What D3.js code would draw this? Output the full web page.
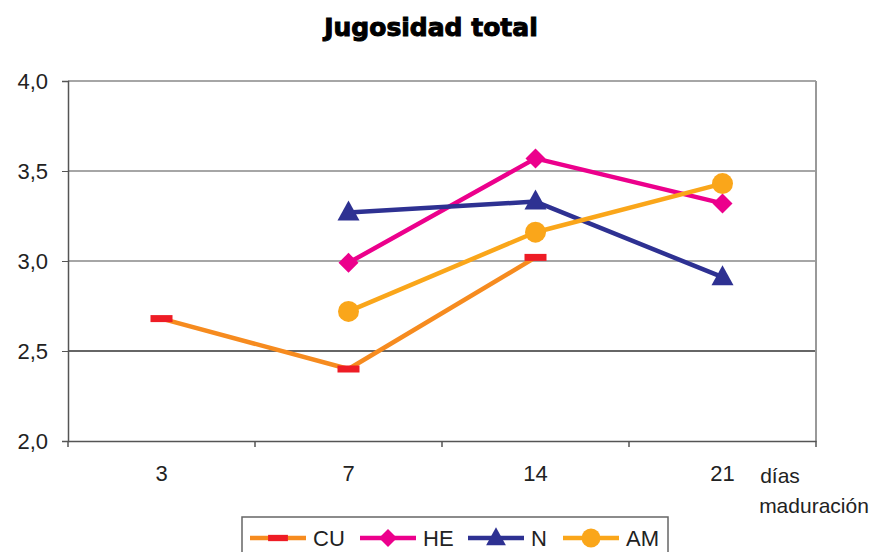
<!DOCTYPE html>
<html>
<head>
<meta charset="utf-8">
<script src="https://cdn.jsdelivr.net/npm/d3@7"></script>
<style>
  body { margin: 0; background: #fff; }
  text { font-family: "Liberation Sans", Arial, sans-serif; }
</style>
</head>
<body>
<div id="chart"></div>
<script>
// data
var categories = ["3", "7", "14", "21"];
var yTicks = [2.0, 2.5, 3.0, 3.5, 4.0];
var cuValues = [2.68, 2.40, 3.02, null];
var heValues = [null, 2.99, 3.57, 3.32];
var nValues = [null, 3.27, 3.33, 2.91];
var amValues = [null, 2.72, 3.16, 3.43];

var seriesNames = ["CU", "HE", "N", "AM"];
var seriesData = [cuValues, heValues, nValues, amValues];
var lineColors = ["#f68b1f", "#ec008c", "#2e3192", "#faa61a"];
var markerColors = ["#ee1c25", "#ec008c", "#2e3192", "#faa61a"];
var markerShapes = ["dash", "diamond", "triangle", "circle"];

var svgWidth = 873, svgHeight = 552;
var margin = { top: 81, right: 57, bottom: 111, left: 68 };
var width = svgWidth - margin.left - margin.right;
var height = svgHeight - margin.top - margin.bottom;

var svg = d3.select("#chart").append("svg")
  .attr("width", svgWidth)
  .attr("height", svgHeight);

svg.append("text")
  .attr("x", 431).attr("y", 36)
  .attr("text-anchor", "middle")
  .style("font-family", "'DejaVu Sans', Verdana, sans-serif")
  .style("font-weight", "900")
  .style("font-size", "25px")
  .style("stroke", "#000").style("stroke-width", "1px")
  .text("Jugosidad total");

var g = svg.append("g").attr("transform", `translate(${margin.left},${margin.top})`);

var x = d3.scaleBand().domain(categories).range([0, width]);
var y = d3.scaleLinear().domain([2, 4]).range([height, 0]);

// gridlines
g.selectAll(".grid").data(yTicks.filter(d => d > 2)).enter().append("line")
  .attr("x1", 0).attr("x2", width)
  .attr("y1", d => y(d)).attr("y2", d => y(d))
  .attr("stroke", d => d === 2.5 ? "#333" : "#888")
  .attr("stroke-width", 1.5);

// right border
g.append("line").attr("x1", width).attr("x2", width).attr("y1", 0).attr("y2", height)
  .attr("stroke", "#999").attr("stroke-width", 2);

// y axis
var yAxis = g.append("g")
  .call(d3.axisLeft(y).tickValues(yTicks).tickSize(6).tickPadding(14)
    .tickFormat(d => d3.format(".1f")(d).replace(".", ",")));
yAxis.select(".domain").attr("stroke", "#555").attr("stroke-width", 1.5);
yAxis.selectAll(".tick line").attr("stroke", "#555");
yAxis.selectAll(".tick text").style("font-size", "22px").attr("fill", "#222")
  .style("font-family", "'Liberation Sans', Arial, sans-serif");

// x axis
var xAxis = g.append("g").attr("transform", `translate(0,${height})`)
  .call(d3.axisBottom(x).tickSize(0).tickPadding(24));
xAxis.select(".domain").attr("stroke", "#555").attr("stroke-width", 1.5);
xAxis.selectAll(".tick text").style("font-size", "22px").attr("fill", "#222")
  .style("font-family", "'Liberation Sans', Arial, sans-serif");
// boundary ticks between categories
var bounds = categories.map(c => x(c)).concat([width]);
g.selectAll(".xb").data(bounds).enter().append("line")
  .attr("x1", d => d).attr("x2", d => d)
  .attr("y1", height).attr("y2", height + 6)
  .attr("stroke", "#555").attr("stroke-width", 1.5);

svg.append("text").attr("x", 780).attr("y", 483).attr("text-anchor", "middle")
  .style("font-size", "21px").attr("fill", "#222").text("días");
svg.append("text").attr("x", 814).attr("y", 513).attr("text-anchor", "middle")
  .style("font-size", "21px").attr("fill", "#222").text("maduración");

function drawMarker(sel, shape, color, cx, cy, s) {
  s = s || 1;
  if (shape === "dash") {
    sel.append("rect").attr("x", cx - 11 * s).attr("y", cy - 3.5 * s)
      .attr("width", 22 * s).attr("height", 7 * s).attr("fill", color);
  } else if (shape === "diamond") {
    sel.append("path").attr("d", `M${cx},${cy - 10 * s}L${cx + 10 * s},${cy}L${cx},${cy + 10 * s}L${cx - 10 * s},${cy}Z`)
      .attr("fill", color);
  } else if (shape === "triangle") {
    sel.append("path").attr("d", `M${cx},${cy - 12 * s}L${cx + 11 * s},${cy + 8 * s}L${cx - 11 * s},${cy + 8 * s}Z`)
      .attr("fill", color);
  } else {
    sel.append("circle").attr("cx", cx).attr("cy", cy).attr("r", 10.5 * s).attr("fill", color);
  }
}

var line = d3.line()
  .defined(d => d.v != null)
  .x(d => x(d.c) + x.bandwidth() / 2)
  .y(d => y(d.v));

seriesData.forEach(function(vals, i) {
  var pts = vals.map((v, j) => ({ c: categories[j], v: v }));
  g.append("path").datum(pts)
    .attr("d", line)
    .attr("fill", "none")
    .attr("stroke", lineColors[i])
    .attr("stroke-width", 4.5)
    .attr("stroke-linejoin", "round");
  pts.filter(p => p.v != null).forEach(function(p) {
    drawMarker(g, markerShapes[i], markerColors[i], x(p.c) + x.bandwidth() / 2, y(p.v));
  });
});

// legend
var legend = svg.append("g");
legend.append("rect").attr("x", 242).attr("y", 517).attr("width", 426).attr("height", 50)
  .attr("fill", "#fff").attr("stroke", "#666").attr("stroke-width", 1.5);
var legendX = [250, 360, 468, 563];
seriesNames.forEach(function(name, i) {
  var lx = legendX[i], ly = 538;
  legend.append("line").attr("x1", lx).attr("x2", lx + 56).attr("y1", ly).attr("y2", ly)
    .attr("stroke", lineColors[i]).attr("stroke-width", 4.5);
  drawMarker(legend, markerShapes[i], markerColors[i], lx + 28, ly, 0.9);
  legend.append("text").attr("x", lx + 63).attr("y", ly + 8)
    .style("font-size", "22px").attr("fill", "#222").text(name);
});
</script>
</body>
</html>
